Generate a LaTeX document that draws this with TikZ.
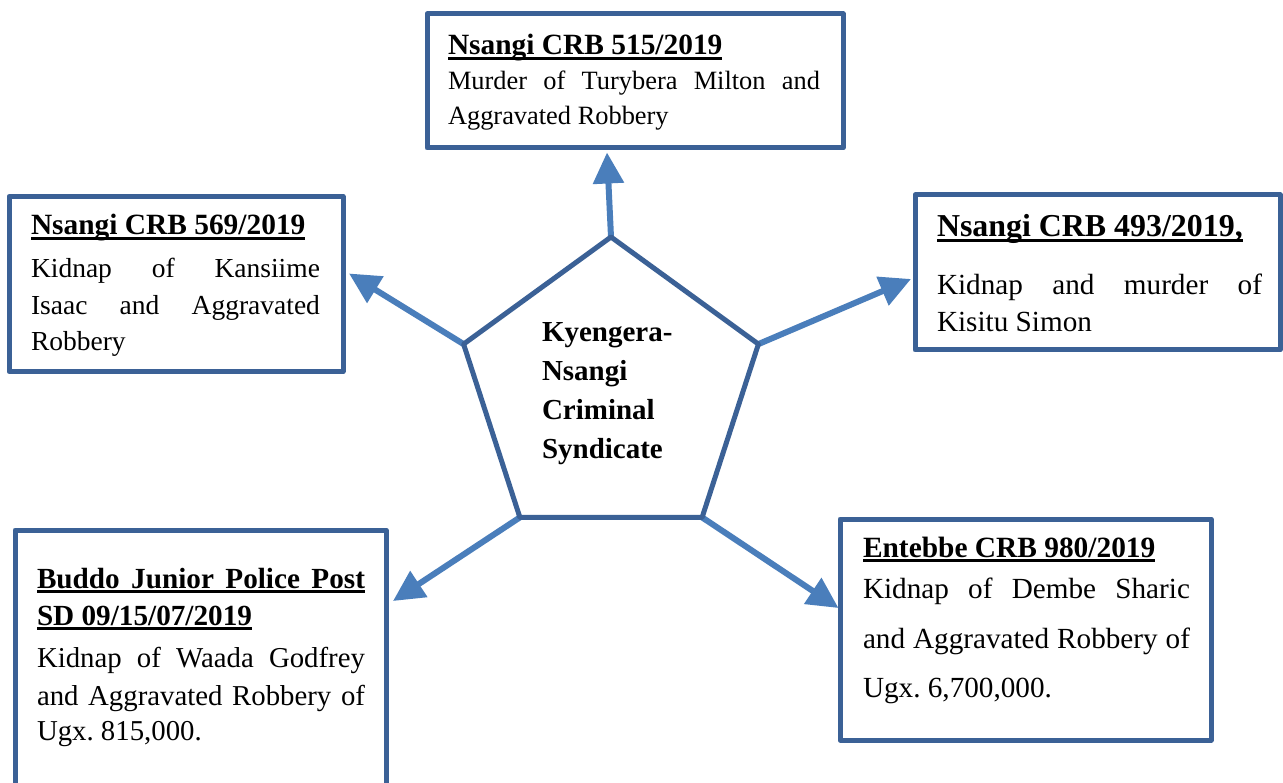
\documentclass[tikz,border=0pt]{standalone}
\usepackage{fontspec}
\setmainfont{Liberation Serif}
\usetikzlibrary{shapes.geometric,arrows.meta,calc,backgrounds}

\definecolor{frameblue}{HTML}{3B6196}
\definecolor{linkblue}{HTML}{4A7EBB}

% font size helper and a thick underline for case headings
\newcommand\setfs[1]{\fontsize{#1}{#1}\selectfont}
\newcommand\headul[1]{\setbox0=\hbox{#1}\rlap{\rule[-4.6pt]{\wd0}{2.8pt}}\box0}
\frenchspacing

\tikzset{
  casebox/.style={rectangle, draw=frameblue, line width=5pt, line join=round,
                  inner sep=0pt, fill=white},
  core/.style={regular polygon, regular polygon sides=5, draw=frameblue,
               line width=5pt, line join=round, minimum size=310pt,
               inner sep=0pt, outer sep=0pt},
  txt/.style={anchor=base west, inner sep=0pt, outer sep=0pt},
  link/.style={draw=linkblue, line width=6pt,
               -{Triangle[length=31pt,width=30pt]}}
}

\begin{document}
\begin{tikzpicture}[x=1pt,y=-1pt]
\useasboundingbox (0,0) rectangle (1283,783);

% case boxes
\node[casebox, minimum width=416pt, minimum height=134pt] (b515) at (635,81) {};
\node[casebox, minimum width=334pt, minimum height=175pt] (b569) at (176,284) {};
\node[casebox, minimum width=365pt, minimum height=155pt] (b493) at (1097.5,272.5) {};
\node[casebox, minimum width=371pt, minimum height=260pt] (bbud) at (200.5,660) {};
\node[casebox, minimum width=371pt, minimum height=221pt] (bent) at (1025.5,629.5) {};

% central pentagon
\node[core] (pent) at (611,392) {};

% links from the syndicate to each case
\begin{scope}[on background layer]
  \fill[white] (0,0) rectangle (1283,783);
  \draw[link] (pent.corner 1) -- ([xshift=-28pt,yshift=-2pt]b515.south);
  \draw[link] (pent.corner 2) -- ([xshift=3.5pt,yshift=10.5pt]b569.east);
  \draw[link] (pent.corner 5) -- ([xshift=-1.5pt,yshift=-6.5pt]b493.west);
  \draw[link] (pent.corner 3) -- ([xshift=4.5pt,yshift=59pt]bbud.east);
  \draw[link] (pent.corner 4) -- ([xshift=1pt,yshift=21.5pt]bent.west);
\end{scope}

% centre label
\node[txt] (tcore) at (542,342) {\vtop{\setfs{29}\bfseries\lineskiplimit=-1000pt
  \baselineskip=38.7pt
  \hbox{Kyengera-}\hbox{Nsangi}\hbox{Criminal}\hbox{Syndicate}}};

% case texts
\node[txt] (t515) at (448,55) {\vtop{\hsize=372pt\lineskiplimit=-1000pt
  \hbox{\setfs{29.4}\bfseries\headul{Nsangi CRB 515/2019}}
  \baselineskip=35pt
  \hbox to\hsize{\setfs{26.4}Murder of Turybera Milton and}
  \hbox{\setfs{26.4}Aggravated Robbery}}};

\begin{scope}
\clip (9,198) rectangle (343,357);
\node[txt] (t569) at (31,235) {\vtop{\hsize=289pt\lineskiplimit=-1000pt
  \hbox{\setfs{29.4}\bfseries\headul{Nsangi CRB 569/2019}}
  \baselineskip=43pt
  \hbox to\hsize{\setfs{27.5}Kidnap of Kansiime}
  \baselineskip=36.5pt
  \hbox to\hsize{\setfs{27.5}Isaac and Aggravated}
  \hbox{\setfs{27.5}Robbery}}};
\end{scope}

\node[txt] (t493) at (937,237) {\vtop{\hsize=325pt\lineskiplimit=-1000pt
  \hbox{\setfs{31.9}\bfseries\headul{Nsangi CRB 493/2019,}}
  \baselineskip=58pt
  \hbox to\hsize{\setfs{29.2}Kidnap and murder of}
  \baselineskip=37pt
  \hbox{\setfs{29.2}Kisitu Simon}}};

\node[txt] (tbud) at (37,588) {\vtop{\hsize=328pt\lineskiplimit=-1000pt
  \hbox{\setfs{29.2}\bfseries\headul{\hbox to\hsize{Buddo Junior Police Post}}}
  \baselineskip=37pt
  \hbox{\setfs{29.2}\bfseries\headul{SD 09/15/07/2019}}
  \baselineskip=42pt
  \hbox to\hsize{\setfs{28.8}Kidnap of Waada Godfrey}
  \baselineskip=38pt
  \hbox to\hsize{\setfs{28.8}and Aggravated Robbery of}
  \baselineskip=35pt
  \hbox{\setfs{28.8}Ugx. 815,000.}}};

\node[txt] (tent) at (863,557) {\vtop{\hsize=327pt\lineskiplimit=-1000pt
  \hbox{\setfs{29.4}\bfseries\headul{Entebbe CRB 980/2019}}
  \baselineskip=41pt
  \hbox to\hsize{\setfs{29.2}Kidnap of Dembe Sharic}
  \baselineskip=50pt
  \hbox to\hsize{\setfs{29.2}and Aggravated Robbery of}
  \baselineskip=49pt
  \hbox{\setfs{29.2}Ugx. 6,700,000.}}};

\end{tikzpicture}
\end{document}
